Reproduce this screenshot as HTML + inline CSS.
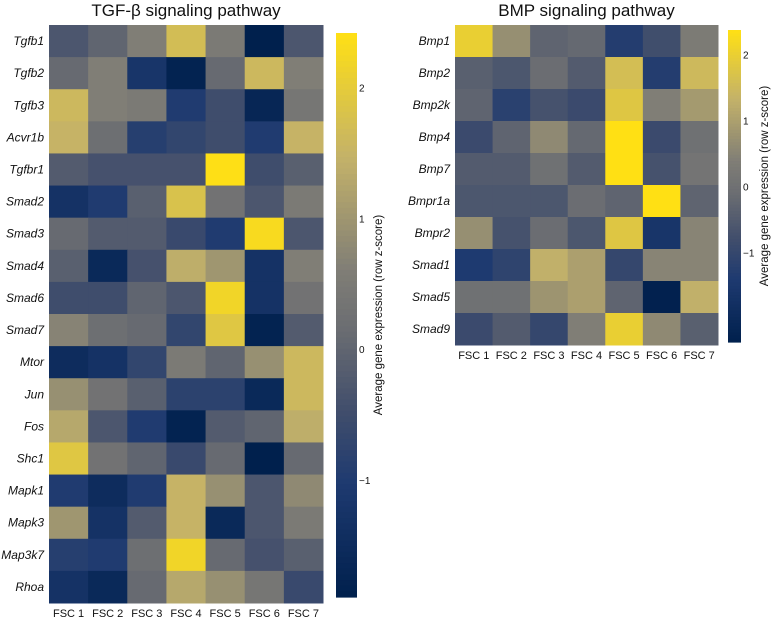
<!DOCTYPE html>
<html><head><meta charset="utf-8">
<style>
html,body{margin:0;padding:0;background:#fff;}
svg{display:block;font-family:"Liberation Sans",Arial,sans-serif;}
</style></head>
<body>
<svg id="chart" width="775" height="621" viewBox="0 0 775 621" xmlns="http://www.w3.org/2000/svg"></svg>
<script>
const samples = ["FSC 1","FSC 2","FSC 3","FSC 4","FSC 5","FSC 6","FSC 7"];
const tgfGenes = ["Tgfb1","Tgfb2","Tgfb3","Acvr1b","Tgfbr1","Smad2","Smad3","Smad4","Smad6","Smad7","Mtor","Jun","Fos","Shc1","Mapk1","Mapk3","Map3k7","Rhoa"];
const tgfValues = [
[-0.3,0,0.6,1.7,0.5,-1.9,-0.3],
[0.1,0.6,-1.2,-1.8,0.1,1.6,0.6],
[1.6,0.6,0.5,-1.0,-0.5,-1.7,0.4],
[1.5,0.2,-0.9,-0.7,-0.5,-1.0,1.5],
[-0.2,-0.4,-0.4,-0.4,2.4,-0.5,-0.1],
[-1.3,-1.0,-0.1,1.8,0.3,-0.3,0.5],
[0.1,-0.2,-0.2,-0.6,-1.0,2.3,-0.3],
[-0.1,-1.6,-0.4,1.4,1.0,-1.3,0.6],
[-0.5,-0.5,0,-0.3,2.2,-1.3,0.3],
[0.7,0.2,0.1,-0.7,1.9,-1.8,-0.2],
[-1.5,-1.3,-0.7,0.5,0,0.9,1.6],
[0.9,0.3,-0.1,-0.8,-0.8,-1.6,1.6],
[1.3,-0.3,-1.0,-1.8,-0.2,0,1.4],
[1.9,0.3,0,-0.6,0.1,-1.9,0.1],
[-1.0,-1.5,-1.0,1.5,0.9,-0.3,0.8],
[1.0,-1.3,-0.2,1.5,-1.6,-0.3,0.5],
[-0.9,-1.0,0.2,2.2,0.1,-0.4,-0.1],
[-1.3,-1.6,0.1,1.3,0.9,0.4,-0.6]
];
const bmpGenes = ["Bmp1","Bmp2","Bmp2k","Bmp4","Bmp7","Bmpr1a","Bmpr2","Smad1","Smad5","Smad9"];
const bmpValues = [
[2.0,0.7,-0.3,-0.2,-1.3,-0.8,0.3],
[-0.4,-0.6,-0.1,-0.5,1.6,-1.3,1.5],
[-0.3,-1.2,-0.7,-0.9,1.8,0.4,0.9],
[-0.9,-0.3,0.6,-0.2,2.4,-0.9,0.0],
[-0.5,-0.5,0,-0.5,2.4,-0.7,0.1],
[-0.6,-0.6,-0.6,-0.1,-0.3,2.4,-0.3],
[0.7,-0.7,-0.1,-0.6,1.8,-1.6,0.5],
[-1.4,-1.1,1.3,1.0,-1.0,0.5,0.5],
[0,0,0.8,1.0,-0.3,-2.3,1.3],
[-0.9,-0.5,-1.0,0.4,2.0,0.6,-0.4]
];
const tgfTicks = [2,1,0,-1];
const bmpTicks = [2,1,0,-1];
const tgfRange = [-1.89,2.42];
const bmpRange = [-2.35,2.38];

const NS="http://www.w3.org/2000/svg";
const svg=document.getElementById('chart');
const stops=[[0,[0,32,77]],[0.2,[30,58,112]],[0.33,[65,78,108]],[0.48,[108,110,114]],[0.58,[128,126,118]],[0.78,[196,178,105]],[1,[255,224,20]]];
function cmap(t){t=Math.max(0,Math.min(1,t));for(let i=1;i<stops.length;i++){if(t<=stops[i][0]){const a=stops[i-1],b=stops[i];const f=(t-a[0])/(b[0]-a[0]);const c=a[1].map((v,k)=>Math.round(v+(b[1][k]-v)*f));return `rgb(${c[0]},${c[1]},${c[2]})`;}}return 'rgb(255,224,20)';}
function mk(tag,attrs,parent){const e=document.createElementNS(NS,tag);for(const k in attrs)e.setAttribute(k,attrs[k]);(parent||svg).appendChild(e);return e;}

function panel(cfg){
  const g=mk('g',{});
  
  
  const cw=(cfg.x1-cfg.x0)/samples.length, ch=(cfg.y1-cfg.y0)/cfg.genes.length;
  const norm=v=>(v-cfg.range[0])/(cfg.range[1]-cfg.range[0]);
  cfg.values.forEach((row,r)=>row.forEach((v,c)=>{
    const rc=mk('rect',{x:cfg.x0+c*cw,y:cfg.y0+r*ch,width:cw+0.5,height:ch+0.5,fill:cmap(norm(v))},g);
    
    
  }));
  cfg.genes.forEach((gn,r)=>{
    const t=mk('text',{x:cfg.x0-5,y:cfg.y0+r*ch+ch/2+4,'text-anchor':'end','font-size':12,'font-style':'italic',fill:'#111'},g);
    t.textContent=gn;
    
    
  });
  samples.forEach((s,c)=>{
    const t=mk('text',{x:cfg.x0+c*cw+cw/2,y:cfg.y1+14,'text-anchor':'middle','font-size':11,fill:'#111'},g);
    t.textContent=s;
    
    
  });
  const ti=mk('text',{x:(cfg.x0+cfg.x1)/2,y:16,'text-anchor':'middle','font-size':17,fill:'#111'},g);
  ti.textContent=cfg.title;
  
  
  const cb=mk('g',{},g);
  
  
  const n=100, h=(cfg.cb.y1-cfg.cb.y0)/n;
  for(let i=0;i<n;i++){mk('rect',{x:cfg.cb.x0,y:cfg.cb.y0+i*h,width:cfg.cb.x1-cfg.cb.x0,height:h+0.6,fill:cmap(1-(i+0.5)/n)},cb);}
  const yv=v=>cfg.cb.y1-(v-cfg.range[0])/(cfg.range[1]-cfg.range[0])*(cfg.cb.y1-cfg.cb.y0);
  cfg.ticks.forEach(tv=>{
    const y=yv(tv);
    const t=mk('text',{x:cfg.cb.x1+2,y:y+3.5,'font-size':10,fill:'#111'},cb);
    t.textContent=tv<0?'\u2212'+Math.abs(tv):String(tv);
    
    
  });
  const lx=cfg.cb.tx, ly=(cfg.cb.y0+cfg.cb.y1)/2;
  const lt=mk('text',{x:lx,y:ly,'text-anchor':'middle','font-size':11.5,fill:'#111',transform:`rotate(-90 ${lx} ${ly})`},cb);
  lt.textContent='Average gene expression (row z-score)';
  
  
}
panel({name:'tgf-beta-heatmap',title:'TGF-\u03b2 signaling pathway',genes:tgfGenes,values:tgfValues,range:tgfRange,ticks:tgfTicks,x0:49,x1:323,y0:25,y1:603,cb:{x0:336,x1:357,y0:33,y1:597,tx:382}});
panel({name:'bmp-heatmap',title:'BMP signaling pathway',genes:bmpGenes,values:bmpValues,range:bmpRange,ticks:bmpTicks,x0:455,x1:718,y0:25,y1:345,cb:{x0:728,x1:741,y0:30,y1:342,tx:768}});
</script>
</body></html>
